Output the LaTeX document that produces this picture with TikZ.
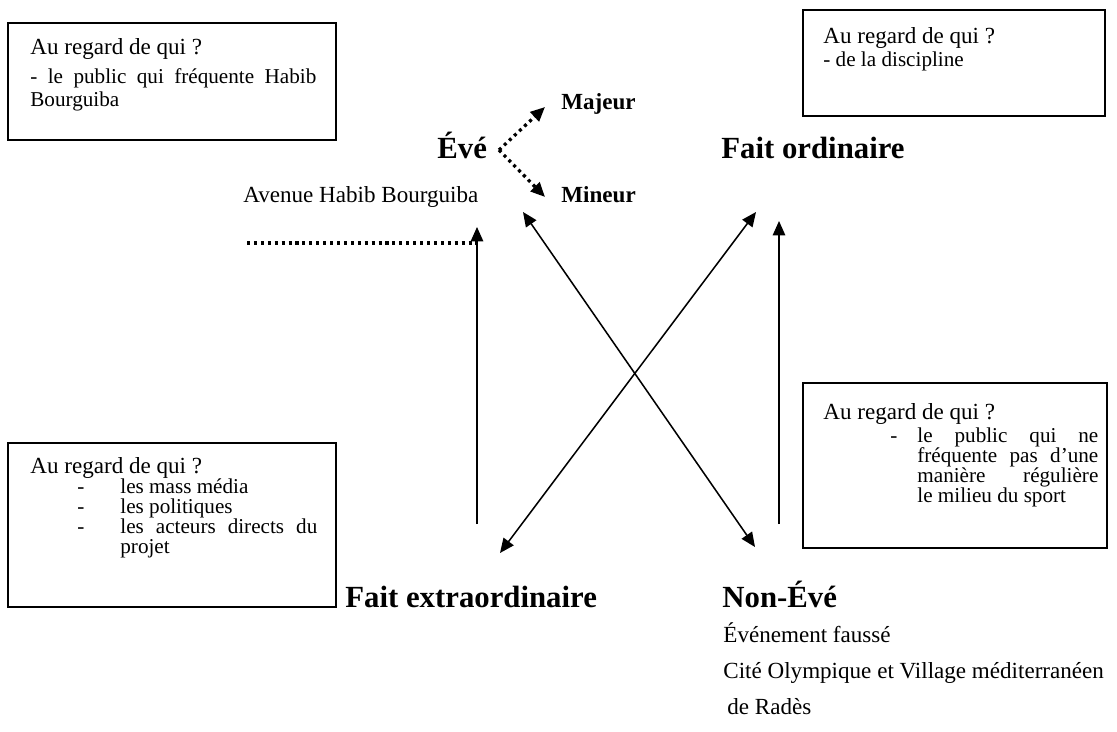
\documentclass[tikz,border=0pt]{standalone}
\usepackage{fontspec}
\setmainfont{Liberation Serif}
\usetikzlibrary{arrows.meta,fit}
\newcommand{\jl}[2]{\makebox[#1][s]{#2}}

\tikzset{
  qbox/.style={draw, line width=0.9pt, inner sep=0pt},
  txt/.style={inner sep=0pt, anchor=base west, font=\fontsize{12}{14}\selectfont},
  item/.style={inner sep=0pt, anchor=base west, font=\fontsize{11}{13}\selectfont},
  pole/.style={inner sep=0pt, anchor=base west, font=\fontsize{16}{19}\selectfont\bfseries},
  sub/.style={inner sep=0pt, anchor=base west, font=\fontsize{12}{14}\selectfont\bfseries},
  link/.style={line width=0.8pt, -{Triangle[length=7.5pt,width=6.5pt]}},
  duo/.style={line width=0.8pt, {Triangle[length=7.5pt,width=6.5pt]}-{Triangle[length=7.5pt,width=6.5pt]}},
  dots/.style={line width=1.7pt, dash pattern=on 1.6pt off 2pt},
}

\begin{document}
\begin{tikzpicture}[x=0.52pt,y=-0.52pt]
\useasboundingbox (0,0) rectangle (1117,731);

% question boxes
\node[qbox, fit={(8,23) (336,140)}] (qTL) {};
\node[qbox, fit={(803,10) (1105,116)}] (qTR) {};
\node[qbox, fit={(8,443) (336,607)}] (qBL) {};
\node[qbox, fit={(803,383) (1107,548)}] (qBR) {};

% top left box
\node[txt] (tl1) at (30,55) {Au regard de qui ?};
\node[item] (tl2) at (30,84) {\jl{148.7pt}{- le public qui fréquente Habib}};
\node[item] (tl3) at (30,107) {Bourguiba};

% top right box
\node[txt] (tr1) at (823,44) {Au regard de qui ?};
\node[item] (tr2) at (823,67) {- de la discipline};

% bottom left box
\node[txt] (bl1) at (30,473) {Au regard de qui ?};
\node[item] (bld1) at (77,493) {-};
\node[item] (bl2) at (120,493) {les mass média};
\node[item] (bld2) at (77,513) {-};
\node[item] (bl3) at (120,513) {les politiques};
\node[item] (bld3) at (77,533) {-};
\node[item] (bl4) at (120,533) {\jl{102.4pt}{les acteurs directs du}};
\node[item] (bl5) at (120,553) {projet};

% bottom right box
\node[txt] (br1) at (823,419) {Au regard de qui ?};
\node[item] (brd1) at (890,442) {-};
\node[item] (br2) at (917,442) {\jl{94.1pt}{le public qui ne}};
\node[item] (br3) at (917,462) {\jl{94.1pt}{fréquente pas d’une}};
\node[item] (br4) at (917,482) {\jl{94.1pt}{manière régulière}};
\node[item] (br5) at (917,502) {le milieu du sport};

% the four poles
\node[pole] (eve) at (437,159) {Évé};
\node[pole] (ordi) at (721,159) {Fait ordinaire};
\node[pole] (extra) at (345,607) {Fait extraordinaire};
\node[pole] (noneve) at (722,607) {Non-Évé};
\node[sub] (maj) at (561,110) {Majeur};
\node[sub] (mine) at (561,203) {Mineur};
\node[txt] (ave) at (243,203) {Avenue Habib Bourguiba};
\node[txt] (faux) at (723,642) {Événement faussé};
\node[txt] (cite) at (723,678) {Cité Olympique et Village méditerranéen};
\node[txt] (rades) at (727,714) {de Radès};

% arrow ends
\coordinate (fork) at (499,150);
\coordinate (majTip) at (545,107);
\coordinate (minTip) at (545,197);
\coordinate (sideL) at (247,243);
\coordinate (sideR) at (477,243);
\coordinate (extraTop) at (477,524);
\coordinate (eveFoot) at (477,227);
\coordinate (noneveTop) at (779,524);
\coordinate (ordiFoot) at (779,221);
\coordinate (eveDiag) at (523,212);
\coordinate (noneveDiag) at (755,547);
\coordinate (ordiDiag) at (756,212);
\coordinate (extraDiag) at (500,553);

% dotted links
\draw[link, dots] (fork) -- (majTip);
\draw[link, dots] (fork) -- (minTip);
\draw[dots] (sideL) -- (sideR);

% arrows between poles
\draw[link] (extraTop) -- (eveFoot);
\draw[link] (noneveTop) -- (ordiFoot);
\draw[duo] (eveDiag) -- (noneveDiag);
\draw[duo] (ordiDiag) -- (extraDiag);
\end{tikzpicture}
\end{document}
